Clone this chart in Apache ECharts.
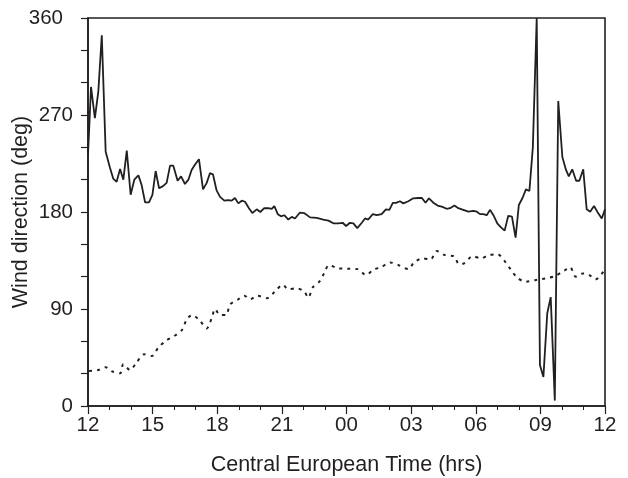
<!DOCTYPE html>
<html>
<head>
<meta charset="utf-8">
<title>Wind direction</title>
<script src="https://cdn.jsdelivr.net/npm/echarts@6/dist/echarts.min.js"></script>
<style>
	html,body{margin:0;padding:0;background:#fff;}
	#chart{width:628px;height:478px;}
</style>
</head>
<body>
<div id="chart"></div>
<script>
// hours after 12:00 CET
var solidHours = [0,0.14,0.32,0.48,0.64,0.82,1.02,1.17,1.33,1.49,1.64,1.80,1.98,2.15,2.34,2.49,2.65,2.83,2.99,3.14,3.30,3.48,3.65,3.81,3.96,4.16,4.32,4.50,4.66,4.81,4.97,5.15,5.34,5.51,5.66,5.80,5.97,6.13,6.33,6.51,6.67,6.82,6.98,7.14,7.29,7.47,7.63,7.83,8.00,8.18,8.37,8.53,8.65,8.81,8.96,9.11,9.30,9.46,9.61,9.84,10.03,10.31,10.62,10.92,11.16,11.39,11.62,11.82,11.98,12.16,12.32,12.50,12.71,12.86,13.01,13.22,13.40,13.63,13.83,13.99,14.15,14.30,14.48,14.64,14.87,15.10,15.33,15.50,15.67,15.83,16.03,16.23,16.42,16.65,16.81,17.01,17.19,17.42,17.66,17.89,18.05,18.20,18.35,18.51,18.66,18.82,19.00,19.16,19.34,19.51,19.68,19.85,20.00,20.17,20.33,20.49,20.65,20.83,20.98,21.14,21.32,21.48,21.67,21.83,22.02,22.19,22.32,22.48,22.66,22.81,22.99,23.15,23.31,23.49,23.64,23.85,24.00];
var solidDeg = [233,296,267,292,344,236,221,211,208,220,210,237,196,210,214,205,189,189,196,218,202,204,207,223,223,209,213,206,210,219,224,229,201,207,216,215,200,194,190.5,191,190.5,193,188,190.5,189.5,183.5,179,182.5,180,183.5,183.5,183,185.5,178,176,177,173,175.5,174,179.5,179,175,174.5,173,172,169.5,169.5,170,167,170,169.5,165,170,174,173,178,177,178,182.5,182,188.5,188.5,190,188,190,192.7,193,193,188.6,192.7,188.6,186,185,183,183.5,186,183.5,182,180.3,181,180.3,178,178,177,182,177,169.5,166,162.7,176.5,175.7,156.3,186.5,193,201,199.5,240,360,38,27,86,101,5,283,231,219,213,219.6,209,209,219.6,182.5,180.3,185.6,180.3,174,182.5];

var dottedHours = [0.05,0.48,0.82,1.13,1.49,1.64,1.95,2.26,2.60,2.96,3.26,3.61,4.01,4.38,4.58,4.84,5.20,5.51,5.74,5.90,6.13,6.41,6.59,6.95,7.26,7.52,7.88,8.30,8.67,9.04,9.30,9.69,10.04,10.23,10.43,10.74,10.96,11.19,11.62,12.04,12.51,12.91,13.25,13.63,14.02,14.44,14.88,15.13,15.53,15.90,16.19,16.57,17.00,17.22,17.46,17.86,18.24,18.62,19.01,19.34,19.62,19.93,20.32,20.80,21.26,21.68,22.10,22.38,22.64,22.97,23.27,23.57,23.92];
var dottedDeg = [32.5,33.4,36,32,30.3,38.7,33.4,40.5,48,46.4,54,60.6,65,71,80.4,84.4,79,72,81.4,90,84.4,84.4,94,98.6,102.3,99,102.3,100,106,112.5,108.3,109.2,106,100.5,110,115.3,123,130.8,127.7,127.4,127,121.5,126.5,129,133.2,130.5,127,133,137,136,143.8,140,138.8,131.7,132.4,139,137,140,140.7,134.5,126.8,119,115.3,117,118.5,120.6,125.5,128.7,120,123,121.5,117.5,124.6];

var xTickLabels = ['12','15','18','21','00','03','06','09','12'];
var yTicks = [0,90,180,270,360];

var ink = '#231f20';
var font = "'Liberation Sans', Arial, sans-serif";

function pairs(xs, ys){
	var out = [];
	for(var i=0;i<xs.length;i++){ out.push([xs[i], ys[i]]); }
	return out;
}

var myChart = echarts.init(document.getElementById('chart'), null, {renderer:'canvas'});
var option = {
	animation:false,
	backgroundColor:'#fff',
	grid:{left:88, right:23, top:18, bottom:72, containLabel:false, outerBoundsMode:'none',
		show:true, borderColor:ink, borderWidth:1.6, backgroundColor:'transparent'},
	xAxis:{
		type:'value', min:0, max:24, interval:3,
		name:'Central European Time (hrs)', nameLocation:'middle', nameGap:48, nameMoveOverlap:false,
		nameTextStyle:{color:ink, fontSize:21.5, fontFamily:font},
		axisLine:{show:true, lineStyle:{color:ink, width:1.6}},
		axisTick:{show:true, inside:false, length:8, lineStyle:{color:ink, width:1.2}},
		minorTick:{show:true, splitNumber:3, length:4, lineStyle:{color:ink, width:1}},
		axisLabel:{color:ink, fontSize:20.5, fontFamily:font, margin:9,
			formatter:function(v){ return xTickLabels[Math.round(v/3)]; }},
		splitLine:{show:false}
	},
	yAxis:{
		type:'value', min:0, max:360, interval:90,
		name:'Wind direction (deg)', nameLocation:'middle', nameGap:56, nameMoveOverlap:false,
		nameTextStyle:{color:ink, fontSize:21.5, fontFamily:font},
		axisLine:{show:true, lineStyle:{color:ink, width:1.6}},
		axisTick:{show:true, inside:false, length:7, lineStyle:{color:ink, width:1.2}},
		minorTick:{show:true, splitNumber:3, length:7, lineStyle:{color:ink, width:1.2}},
		axisLabel:{color:ink, fontSize:20.5, fontFamily:font, margin:15,
			// the top label sits a little further left in the original
			formatter:function(v){
				if(yTicks.indexOf(v) < 0) return '';
				return v === 360 ? '{top|' + v + '}' : String(v);
			},
			rich:{top:{fontSize:20.5, fontFamily:font, color:ink, padding:[0,10,0,0]}}},
		splitLine:{show:false}
	},
	series:[
		{
			type:'line', data:pairs(solidHours, solidDeg), showSymbol:false, clip:true,
			lineStyle:{color:ink, width:1.8}
		},
		{
			type:'line', data:pairs(dottedHours, dottedDeg), showSymbol:false, clip:true, smooth:0.3,
			lineStyle:{color:ink, width:2, type:[3,5]}
		}
	]
};
myChart.setOption(option);
</script>
</body>
</html>
